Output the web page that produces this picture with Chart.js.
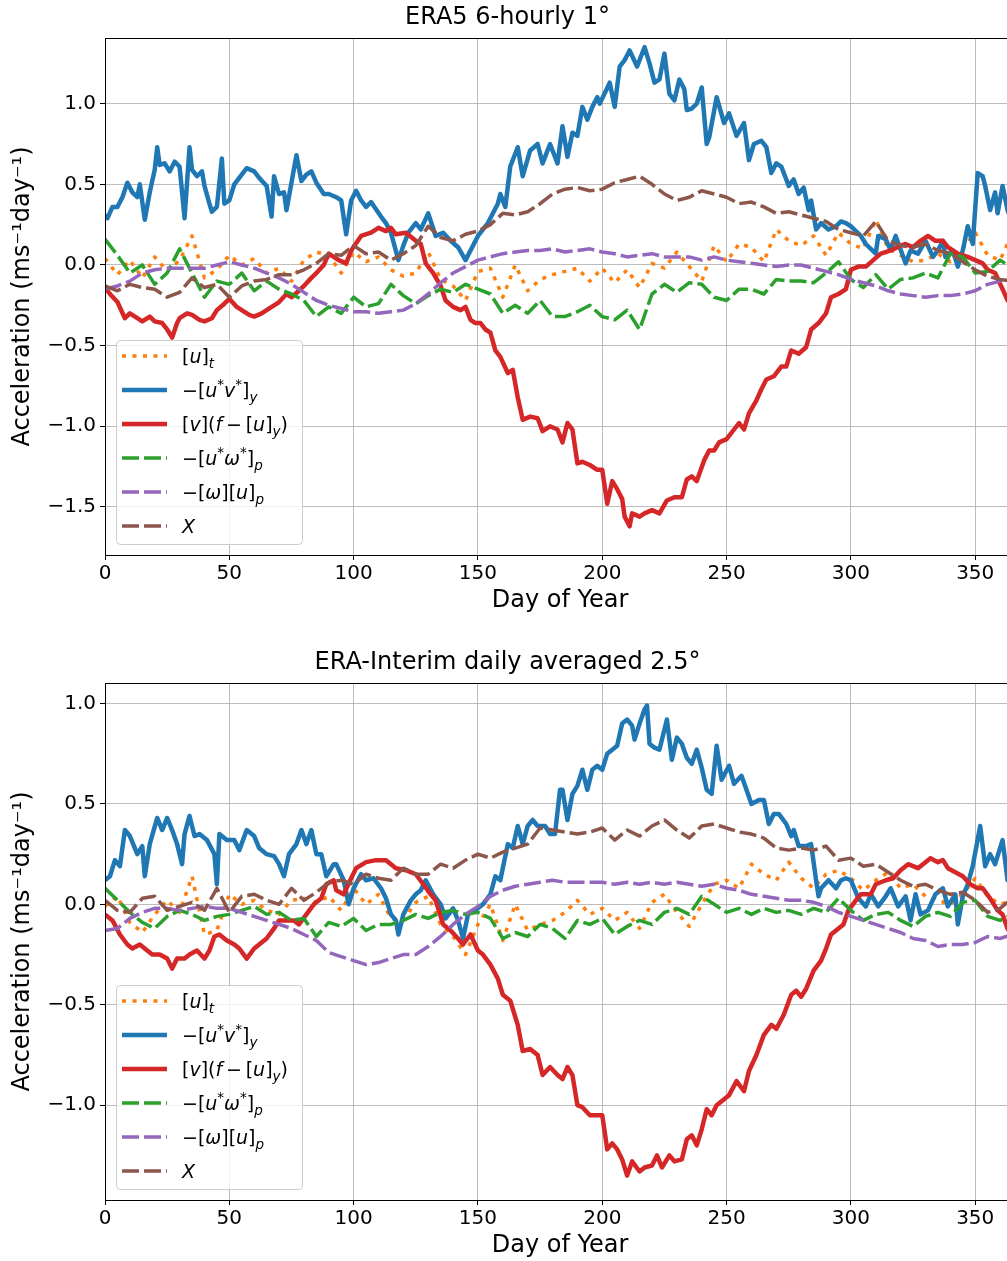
<!DOCTYPE html>
<html lang="en">
<head>
  <meta charset="UTF-8">
  <title>Zonal momentum budget: ERA5 vs ERA-Interim</title>
  <script src="https://cdn.jsdelivr.net/npm/chart.js"></script>
  <style>
    html, body { margin: 0; padding: 0; background: #fff; overflow: hidden; }
    .page { width: 1007px; height: 1261px; overflow: hidden; position: relative; }
    canvas { display: block; }
  </style>
</head>
<body>
  <div class="page">
    <canvas id="era5" width="1025" height="645"></canvas>
    <canvas id="erai" width="1025" height="645"></canvas>
  </div>

  <script>
    // day of year, every 5 days (used by the noisier terms)
    const days = [0,5,10,15,20,25,30,35,40,45,50,55,60,65,70,75,80,85,90,95,
      100,105,110,115,120,125,130,135,140,145,150,155,160,165,170,175,180,185,190,195,
      200,205,210,215,220,225,230,235,240,245,250,255,260,265,270,275,280,285,290,295,
      300,305,310,315,320,325,330,335,340,345,350,355,360,365];

    const xTicks = [0, 50, 100, 150, 200, 250, 300, 350];
    const yTicksTop = [-1.5, -1.0, -0.5, 0.0, 0.5, 1.0];
    const yTicksBottom = [-1.0, -0.5, 0.0, 0.5, 1.0];

    // ---- ERA5 6-hourly 1 deg ----
    const era5Ut = [0.04,-0.06,0.03,-0.08,0.05,-0.04,0.03,0.18,-0.08,-0.03,
      0.06,0.00,0.04,-0.05,-0.02,-0.10,0.03,0.08,0.06,-0.05,
      0.08,0.02,0.05,-0.03,-0.07,-0.05,0.08,-0.09,-0.13,-0.22,
      -0.04,-0.02,-0.20,0.00,-0.16,-0.09,-0.06,-0.04,-0.02,-0.10,
      -0.02,-0.11,-0.03,-0.14,0.01,-0.02,0.08,-0.01,-0.10,0.12,
      0.02,0.13,0.11,0.02,0.22,0.15,0.12,0.18,0.06,0.20,
      0.13,0.10,0.28,0.10,0.06,0.02,0.03,0.07,0.02,0.10,
      0.20,0.06,0.03,0.20];

    const era5EddyDays = [0,1,3,5,7,9,11,13,14,16,
      18,20,21,22,24,26,28,30,32,34,
      35,37,39,40,42,43,45,47,48,50,
      52,55,57,60,62,65,67,68,70,72,
      73,75,77,79,81,83,85,88,90,93,
      95,97,99,101,103,105,107,111,113,115,
      118,120,122,125,127,130,133,136,139,142,
      145,147,150,154,158,159,161,163,166,168,
      171,174,176,179,182,184,186,188,190,192,
      194,196,198,199,203,205,207,209,211,214,
      217,219,221,223,225,227,229,231,233,234,
      236,238,240,242,243,246,249,251,254,257,
      259,261,264,266,268,270,272,275,277,279,
      281,283,284,286,288,291,294,296,298,300,
      304,306,310,311,314,316,318,322,324,327,
      330,333,335,337,338,341,343,345,347,349,
      351,353,354,356,358,359,361,363,365];
    const era5Eddy = [0.31,0.29,0.36,0.36,0.42,0.51,0.45,0.42,0.50,0.28,
      0.45,0.59,0.73,0.62,0.63,0.58,0.64,0.61,0.29,0.73,
      0.59,0.55,0.58,0.49,0.38,0.33,0.36,0.66,0.38,0.40,
      0.50,0.56,0.60,0.58,0.54,0.49,0.30,0.55,0.44,0.45,
      0.34,0.51,0.68,0.52,0.56,0.58,0.51,0.44,0.44,0.42,
      0.40,0.19,0.40,0.46,0.40,0.36,0.39,0.30,0.26,0.20,
      0.03,0.12,0.20,0.26,0.22,0.32,0.18,0.20,0.15,0.11,
      0.03,0.09,0.18,0.26,0.38,0.44,0.36,0.61,0.73,0.55,
      0.71,0.75,0.63,0.75,0.63,0.86,0.67,0.82,0.80,0.98,
      0.90,0.98,1.04,1.00,1.13,0.98,1.23,1.27,1.33,1.23,
      1.35,1.25,1.13,1.15,1.31,1.06,1.02,1.15,1.09,0.96,
      0.97,1.00,1.10,0.75,0.79,1.04,0.88,0.94,0.80,0.88,
      0.65,0.75,0.77,0.73,0.57,0.63,0.61,0.49,0.53,0.44,
      0.48,0.34,0.40,0.22,0.26,0.22,0.24,0.27,0.26,0.24,
      0.18,0.13,0.07,0.18,0.16,0.09,0.18,0.01,0.09,0.07,
      0.15,0.05,0.09,0.15,0.05,0.09,-0.01,0.09,0.24,0.13,
      0.57,0.55,0.49,0.34,0.45,0.32,0.49,0.34,0.25];

    const era5CorDays = [0,2,5,8,10,13,15,18,20,23,
      25,27,29,30,33,35,38,40,43,45,
      48,50,53,55,58,60,63,65,68,70,
      73,75,78,80,83,85,88,90,92,94,
      97,99,103,107,110,113,115,117,121,125,
      127,129,132,135,137,140,143,145,147,149,
      151,153,155,157,159,162,164,166,168,171,
      174,176,179,182,184,186,188,190,192,195,
      198,200,202,204,206,208,209,211,212,215,
      217,220,223,226,229,232,234,236,238,241,
      243,245,247,250,253,255,257,259,262,264,
      266,269,272,274,276,279,282,284,287,290,
      292,295,298,300,303,306,309,312,314,316,
      320,322,325,328,331,334,337,339,343,347,
      350,353,355,358,361,363,365];
    const era5Cor = [-0.14,-0.18,-0.23,-0.33,-0.30,-0.33,-0.35,-0.32,-0.35,-0.36,
      -0.40,-0.45,-0.36,-0.33,-0.30,-0.31,-0.34,-0.35,-0.33,-0.28,
      -0.24,-0.21,-0.26,-0.28,-0.31,-0.32,-0.30,-0.28,-0.25,-0.23,
      -0.18,-0.20,-0.16,-0.13,-0.08,-0.05,0.00,0.07,0.05,0.03,
      0.01,0.09,0.18,0.20,0.23,0.21,0.23,0.19,0.20,0.15,
      0.13,0.01,-0.05,-0.13,-0.22,-0.26,-0.28,-0.26,-0.34,-0.36,
      -0.36,-0.40,-0.42,-0.53,-0.57,-0.67,-0.65,-0.82,-0.96,-0.94,
      -0.95,-1.03,-1.00,-1.02,-1.10,-0.98,-1.02,-1.23,-1.22,-1.24,
      -1.27,-1.27,-1.48,-1.34,-1.39,-1.45,-1.56,-1.62,-1.54,-1.56,
      -1.54,-1.52,-1.54,-1.46,-1.44,-1.44,-1.33,-1.31,-1.34,-1.21,
      -1.15,-1.15,-1.10,-1.08,-1.02,-0.98,-1.02,-0.92,-0.84,-0.77,
      -0.71,-0.69,-0.63,-0.63,-0.53,-0.55,-0.51,-0.40,-0.36,-0.30,
      -0.20,-0.18,-0.15,-0.03,-0.01,-0.01,0.03,0.07,0.08,0.09,
      0.12,0.13,0.11,0.15,0.18,0.15,0.15,0.11,0.07,0.05,
      0.03,0.01,-0.03,-0.05,-0.15,-0.22,-0.24];

    const era5Vert = [0.16,0.06,-0.05,0.00,-0.12,-0.05,0.10,-0.05,-0.20,-0.10,
      -0.12,-0.05,-0.16,-0.10,-0.15,-0.18,-0.22,-0.32,-0.26,-0.30,
      -0.20,-0.26,-0.24,-0.12,-0.19,-0.24,-0.19,-0.15,-0.17,-0.12,
      -0.15,-0.18,-0.30,-0.25,-0.30,-0.22,-0.32,-0.32,-0.29,-0.25,
      -0.32,-0.34,-0.28,-0.40,-0.18,-0.12,-0.17,-0.11,-0.12,-0.20,
      -0.22,-0.15,-0.15,-0.18,-0.09,-0.10,-0.10,-0.11,-0.05,0.02,
      -0.09,-0.14,-0.06,-0.15,-0.09,-0.08,-0.05,-0.08,0.07,0.05,
      -0.05,-0.04,0.03,-0.02];
    const era5MeanVert = [-0.15,-0.13,-0.10,-0.05,-0.03,-0.02,-0.02,-0.02,-0.02,0.00,
      0.02,0.00,-0.02,-0.05,-0.08,-0.12,-0.17,-0.22,-0.25,-0.27,
      -0.29,-0.29,-0.30,-0.29,-0.28,-0.24,-0.18,-0.11,-0.05,-0.01,
      0.03,0.05,0.07,0.08,0.09,0.09,0.10,0.08,0.09,0.10,
      0.08,0.07,0.05,0.06,0.07,0.05,0.05,0.05,0.03,0.05,
      0.03,0.02,0.01,0.00,-0.01,0.00,0.00,-0.02,-0.04,-0.06,
      -0.09,-0.11,-0.13,-0.16,-0.18,-0.19,-0.20,-0.19,-0.19,-0.18,
      -0.16,-0.12,-0.10,-0.09];
    const era5X = [-0.13,-0.16,-0.12,-0.14,-0.15,-0.20,-0.17,-0.08,-0.14,-0.12,
      -0.20,-0.13,-0.10,-0.09,-0.06,-0.06,-0.03,0.01,0.07,0.06,
      0.12,0.07,0.08,0.03,0.07,0.12,0.24,0.17,0.15,0.19,
      0.21,0.25,0.32,0.31,0.33,0.38,0.44,0.47,0.48,0.46,
      0.47,0.51,0.53,0.55,0.50,0.44,0.40,0.42,0.46,0.44,
      0.42,0.38,0.39,0.36,0.32,0.33,0.31,0.29,0.27,0.22,
      0.20,0.18,0.27,0.15,0.12,0.11,0.13,0.09,0.07,0.02,
      -0.03,-0.07,-0.09,-0.10];

    // ---- ERA-Interim daily averaged 2.5 deg ----
    const eraiUt = [-0.01,0.04,-0.09,-0.14,-0.05,0.02,-0.04,0.14,-0.15,-0.13,
      0.05,0.00,0.02,-0.03,-0.05,0.02,0.03,0.01,0.04,-0.03,
      0.08,0.00,0.05,-0.07,-0.08,0.01,0.04,-0.10,-0.16,-0.25,
      -0.10,0.00,-0.18,0.00,-0.13,-0.10,-0.08,-0.04,0.02,-0.05,
      -0.02,-0.08,-0.04,-0.12,0.01,0.05,-0.04,-0.11,0.00,0.10,
      0.12,0.08,0.20,0.15,0.12,0.21,0.13,0.08,0.15,0.17,
      0.13,0.07,0.12,0.16,0.08,0.10,0.04,0.02,0.00,0.05,
      0.13,0.04,0.00,0.02];

    const eraiEddyDays = [0,2,4,6,8,10,13,15,16,18,
      21,23,25,27,29,31,32,34,36,38,
      41,44,45,46,49,52,54,57,60,62,
      65,68,70,72,74,77,79,81,83,85,
      87,89,92,93,96,98,100,103,105,108,
      111,113,115,117,118,120,123,125,127,129,
      132,135,137,140,142,144,146,150,152,155,
      157,159,162,164,166,168,170,172,174,177,
      179,181,183,184,186,188,190,192,194,196,
      198,200,202,204,206,208,210,212,213,215,
      217,218,219,221,223,226,228,230,232,234,
      236,238,240,242,244,246,248,251,253,256,
      258,260,263,265,267,269,271,274,276,277,
      279,282,284,286,287,288,291,294,296,298,
      300,303,306,308,311,314,316,319,322,324,
      326,328,331,334,337,339,342,343,345,347,
      349,352,354,356,358,361,363,365];
    const eraiEddy = [0.12,0.14,0.22,0.19,0.37,0.34,0.25,0.29,0.14,0.30,
      0.43,0.37,0.43,0.37,0.30,0.20,0.35,0.44,0.34,0.35,
      0.32,0.25,0.10,0.35,0.32,0.32,0.27,0.37,0.34,0.28,
      0.25,0.24,0.20,0.14,0.25,0.30,0.37,0.30,0.37,0.25,
      0.25,0.14,0.20,0.20,0.12,0.00,0.08,0.15,0.12,0.13,
      0.08,0.03,-0.05,-0.08,-0.15,-0.05,0.02,0.05,0.07,0.12,
      0.05,0.00,-0.07,-0.02,-0.08,-0.17,-0.05,-0.02,0.00,0.05,
      0.14,0.12,0.30,0.28,0.39,0.30,0.39,0.42,0.39,0.39,
      0.35,0.35,0.57,0.57,0.42,0.55,0.59,0.67,0.57,0.67,
      0.69,0.67,0.75,0.77,0.79,0.90,0.92,0.89,0.82,0.90,
      0.97,0.99,0.80,0.78,0.77,0.92,0.72,0.83,0.80,0.73,
      0.70,0.77,0.68,0.57,0.55,0.79,0.62,0.69,0.60,0.64,
      0.57,0.50,0.52,0.52,0.40,0.45,0.45,0.40,0.34,0.37,
      0.29,0.29,0.30,0.12,0.04,0.08,0.12,0.08,0.12,0.13,
      0.12,0.03,-0.01,0.05,-0.01,0.04,0.08,-0.01,0.04,-0.08,
      0.05,-0.05,-0.03,0.05,0.08,-0.01,0.05,-0.10,0.04,0.10,
      0.19,0.39,0.19,0.25,0.20,0.32,0.12,0.18];

    const eraiCorDays = [0,3,6,9,11,14,17,19,22,25,
      27,29,32,34,37,40,42,44,46,49,
      52,54,57,60,62,65,68,70,73,76,
      78,81,84,87,89,92,93,96,99,101,
      105,109,113,117,121,125,128,131,133,136,
      139,142,144,147,150,152,155,158,160,163,
      166,168,171,174,176,179,182,184,186,188,
      190,192,195,198,200,202,204,206,208,210,
      212,215,217,220,222,224,227,229,232,234,
      236,238,240,242,244,246,249,251,254,257,
      259,262,265,268,270,273,276,278,280,282,
      285,288,290,292,295,297,299,302,304,308,
      310,314,317,320,323,327,329,332,335,337,
      339,342,345,348,351,353,356,359,361,363,
      365];
    const eraiCor = [-0.05,-0.08,-0.15,-0.20,-0.22,-0.20,-0.23,-0.25,-0.25,-0.27,
      -0.32,-0.27,-0.27,-0.25,-0.23,-0.27,-0.23,-0.16,-0.15,-0.18,
      -0.20,-0.22,-0.27,-0.22,-0.20,-0.17,-0.12,-0.08,-0.08,-0.08,
      -0.10,-0.05,0.00,0.03,0.10,0.12,0.07,0.05,0.13,0.18,
      0.21,0.22,0.22,0.18,0.17,0.15,0.10,0.05,0.02,-0.10,
      -0.13,-0.17,-0.20,-0.15,-0.23,-0.25,-0.30,-0.37,-0.45,-0.48,
      -0.60,-0.73,-0.72,-0.75,-0.85,-0.81,-0.85,-0.87,-0.81,-0.85,
      -1.00,-1.01,-1.05,-1.05,-1.05,-1.22,-1.19,-1.22,-1.27,-1.35,
      -1.28,-1.33,-1.31,-1.30,-1.25,-1.31,-1.25,-1.28,-1.27,-1.17,
      -1.15,-1.20,-1.12,-1.02,-1.05,-1.00,-0.97,-0.95,-0.88,-0.93,
      -0.83,-0.75,-0.65,-0.60,-0.62,-0.55,-0.45,-0.43,-0.46,-0.42,
      -0.33,-0.28,-0.22,-0.15,-0.12,-0.10,-0.03,0.02,0.05,0.05,
      0.10,0.12,0.13,0.17,0.20,0.18,0.20,0.23,0.21,0.22,
      0.18,0.16,0.14,0.10,0.08,0.08,0.03,-0.03,-0.05,-0.12,
      -0.16];

    const eraiVert = [0.08,0.02,-0.04,-0.09,-0.12,-0.06,-0.03,-0.05,-0.08,-0.06,
      -0.05,-0.03,-0.01,-0.05,-0.04,-0.08,-0.07,-0.16,-0.09,-0.11,
      -0.07,-0.13,-0.10,-0.10,-0.08,-0.05,-0.07,-0.04,-0.03,-0.05,
      -0.04,-0.07,-0.17,-0.14,-0.16,-0.10,-0.12,-0.17,-0.08,-0.10,
      -0.07,-0.15,-0.11,-0.08,-0.10,-0.04,-0.02,-0.05,0.04,0.00,
      -0.04,-0.02,-0.05,-0.02,-0.04,-0.03,-0.05,-0.02,-0.04,0.03,
      -0.03,-0.08,-0.05,-0.04,-0.08,-0.11,-0.06,-0.04,-0.06,0.01,
      0.02,-0.06,-0.08,-0.05];
    const eraiMeanVert = [-0.13,-0.12,-0.07,-0.04,-0.02,-0.02,-0.03,-0.02,-0.01,-0.02,
      -0.02,-0.04,-0.06,-0.08,-0.10,-0.12,-0.15,-0.18,-0.24,-0.26,
      -0.28,-0.30,-0.29,-0.27,-0.25,-0.25,-0.21,-0.16,-0.10,-0.05,
      -0.01,0.04,0.07,0.09,0.10,0.11,0.12,0.11,0.11,0.11,
      0.11,0.10,0.11,0.10,0.11,0.10,0.11,0.10,0.09,0.10,
      0.08,0.07,0.05,0.04,0.03,0.02,0.02,0.01,-0.01,-0.04,
      -0.06,-0.08,-0.10,-0.12,-0.14,-0.17,-0.18,-0.21,-0.20,-0.20,
      -0.19,-0.16,-0.17,-0.15];
    const eraiX = [0.02,-0.03,-0.04,0.03,0.04,-0.03,-0.01,0.01,-0.03,0.08,
      -0.04,0.04,0.05,0.02,0.00,0.08,0.02,0.06,0.11,0.12,
      0.10,0.15,0.13,0.12,0.18,0.15,0.15,0.20,0.18,0.22,
      0.25,0.23,0.26,0.28,0.30,0.38,0.37,0.36,0.35,0.36,
      0.38,0.32,0.37,0.34,0.39,0.42,0.37,0.33,0.39,0.40,
      0.38,0.36,0.35,0.33,0.28,0.27,0.28,0.27,0.29,0.22,
      0.23,0.19,0.20,0.16,0.12,0.09,0.10,0.07,0.05,0.06,
      0.02,-0.04,-0.02,0.03];

    // legend labels as [text, kind] pieces (kind: r roman, i italic, isub, rsup)
    const legendLabels = [
      [['[', 'r'], ['u', 'i'], [']', 'r'], ['t', 'isub']],
      [['\u2212[', 'r'], ['u', 'i'], ['*', 'rsup'], ['v', 'i'], ['*', 'rsup'], [']', 'r'], ['y', 'isub']],
      [['[', 'r'], ['v', 'i'], ['](', 'r'], ['f', 'i'], ['\u2009\u2212\u2009[', 'r'], ['u', 'i'], [']', 'r'], ['y', 'isub'], [')', 'r']],
      [['\u2212[', 'r'], ['u', 'i'], ['*', 'rsup'], ['\u03c9', 'i'], ['*', 'rsup'], [']', 'r'], ['p', 'isub']],
      [['\u2212[', 'r'], ['\u03c9', 'i'], ['][', 'r'], ['u', 'i'], [']', 'r'], ['p', 'isub']],
      [['X', 'i']]
    ];

    const FONT = '"DejaVu Sans", sans-serif';
    Chart.defaults.color = '#000';
    Chart.defaults.font.family = FONT;

    // line styles: dotted, solid, solid, dashed, dashed, dashed
    const styles = [
      { color: '#ff7f0e', width: 3.5, dash: [4, 6.5] },
      { color: '#1f77b4', width: 4.5, dash: [] },
      { color: '#d62728', width: 4.5, dash: [] },
      { color: '#2ca02c', width: 3.5, dash: [17, 5] },
      { color: '#9467bd', width: 3.5, dash: [17, 5] },
      { color: '#8c564b', width: 3.5, dash: [17, 5] }
    ];

    function drawRich(ctx, parts, x, y) {
      ctx.textBaseline = 'alphabetic';
      ctx.textAlign = 'left';
      ctx.fillStyle = '#000';
      const base = y + 7;
      for (const [txt, kind] of parts) {
        const small = kind === 'isub' || kind === 'rsup';
        const size = small ? 13.5 : 19;
        const ital = kind[0] === 'i';
        ctx.font = (ital ? 'italic ' : '') + size + 'px ' + FONT;
        let dy = 0;
        if (kind === 'isub') dy = 5;
        if (kind === 'rsup') dy = -8;
        ctx.fillText(txt, x, base + dy);
        x += ctx.measureText(txt).width;
      }
    }

    // axes frame + legend box drawn over the lines
    const frameAndLegend = {
      id: 'frameAndLegend',
      afterDatasetsDraw(chart) {
        const { ctx, chartArea: a } = chart;
        ctx.save();
        ctx.strokeStyle = '#000';
        ctx.lineWidth = 1;
        ctx.strokeRect(a.left + 0.5, a.top + 0.5, a.right - a.left, a.bottom - a.top);

        const w = 186, h = 204;
        const x0 = a.left + 11, y0 = a.bottom - 11 - h;
        ctx.beginPath();
        ctx.roundRect(x0 + 0.5, y0 + 0.5, w, h, 4);
        ctx.fillStyle = 'rgba(255,255,255,0.8)';
        ctx.fill();
        ctx.strokeStyle = '#cccccc';
        ctx.stroke();

        chart.data.datasets.forEach((ds, i) => {
          const y = y0 + 16 + i * 34;
          ctx.beginPath();
          ctx.setLineDash(ds.borderDash || []);
          ctx.lineWidth = ds.borderWidth;
          ctx.strokeStyle = ds.borderColor;
          ctx.moveTo(x0 + 6, y);
          ctx.lineTo(x0 + 51, y);
          ctx.stroke();
          ctx.setLineDash([]);
          drawRich(ctx, legendLabels[i], x0 + 66, y);
        });
        ctx.restore();
      }
    };

    const fmtY = v => (v < 0 ? '\u2212' : '') + Math.abs(v).toFixed(1);

    // series: list of [xValues, yValues]
    function makePanel(id, title, series, yMin, yMax, yTicks) {
      const datasets = series.map(([xs, ys], i) => ({
        data: xs.map((d, k) => ({ x: d, y: ys[k] })),
        borderColor: styles[i].color,
        borderWidth: styles[i].width,
        borderDash: styles[i].dash,
        borderCapStyle: 'butt',
        borderJoinStyle: 'round',
        pointRadius: 0,
        tension: 0,
        fill: false,
        order: series.length - i
      }));

      new Chart(document.getElementById(id), {
        type: 'line',
        data: { datasets },
        options: {
          responsive: false,
          animation: false,
          devicePixelRatio: 1,
          layout: { padding: { left: 0, right: 10, top: 0, bottom: 0 } },
          plugins: {
            legend: { display: false },
            tooltip: { enabled: false },
            title: {
              display: true,
              text: title,
              color: '#000',
              font: { family: FONT, size: 24, weight: 'normal' },
              padding: { top: 3.6, bottom: 5.6 }
            }
          },
          scales: {
            x: {
              type: 'linear',
              min: 0,
              max: 366,
              afterBuildTicks: s => { s.ticks = xTicks.map(v => ({ value: v })); },
              afterFit: s => { s.height = 90; },
              border: { display: false },
              grid: { color: 'rgba(176,176,176,0.85)', lineWidth: 1, tickColor: '#000', tickLength: 5 },
              ticks: { color: '#000', font: { size: 20 }, padding: 2, maxRotation: 0, autoSkip: false },
              title: {
                display: true,
                text: 'Day of Year',
                color: '#000',
                font: { size: 24 },
                padding: { top: 0, bottom: 29.6 }
              }
            },
            y: {
              type: 'linear',
              min: yMin,
              max: yMax,
              afterBuildTicks: s => { s.ticks = yTicks.map(v => ({ value: v })); },
              afterFit: s => { s.width = 105; },
              border: { display: false },
              grid: { color: 'rgba(176,176,176,0.85)', lineWidth: 1, tickColor: '#000', tickLength: 5 },
              ticks: { color: '#000', font: { size: 20 }, padding: 4, callback: fmtY },
              title: {
                display: true,
                text: 'Acceleration (ms\u207b\u00b9day\u207b\u00b9)',
                color: '#000',
                font: { size: 24 },
                padding: { top: 8.6, bottom: 0 }
              }
            }
          }
        },
        plugins: [frameAndLegend]
      });
    }

    makePanel('era5', 'ERA5 6-hourly 1\u00b0', [
      [days, era5Ut],
      [era5EddyDays, era5Eddy],
      [era5CorDays, era5Cor],
      [days, era5Vert],
      [days, era5MeanVert],
      [days, era5X]
    ], -1.798, 1.407, yTicksTop);

    makePanel('erai', 'ERA-Interim daily averaged 2.5\u00b0', [
      [days, eraiUt],
      [eraiEddyDays, eraiEddy],
      [eraiCorDays, eraiCor],
      [days, eraiVert],
      [days, eraiMeanVert],
      [days, eraiX]
    ], -1.472, 1.102, yTicksBottom);
  </script>
</body>
</html>
